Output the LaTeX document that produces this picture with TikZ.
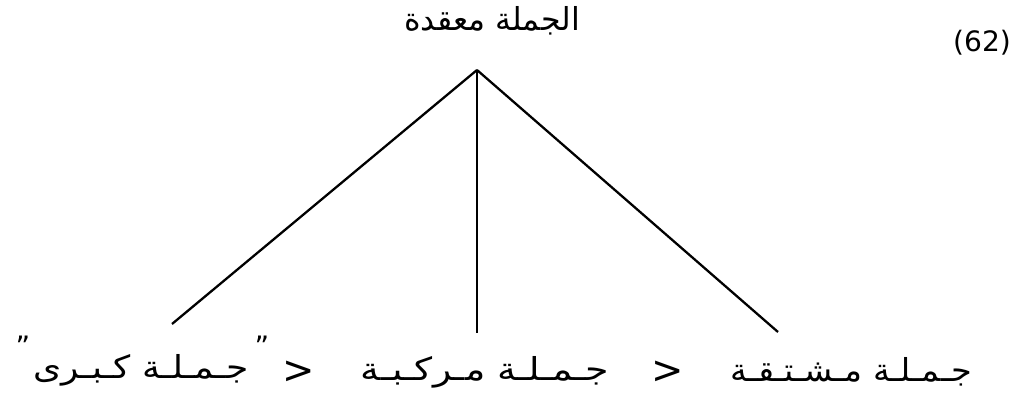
\documentclass[tikz,border=0pt]{standalone}
\usepackage{fontspec}
\setmainfont{DejaVu Sans}
\newfontfamily\arabicfont[Script=Arabic]{DejaVu Sans}
\TeXXeTstate=1
\begin{document}
\begin{tikzpicture}[x=0.02cm, y=-0.02cm,
    phrase/.style={font=\arabicfont\fontsize{18}{21}\selectfont, inner sep=0pt},
    latin/.style={font=\fontsize{16}{19}\selectfont, inner sep=0pt},
    branch/.style={line width=1.3pt, black}
]
    \useasboundingbox (0,0) rectangle (1024,399);

    % --- Head of the tree ---
    \node[phrase] (root) at (492, 21) {\beginR الجملة معقدة\endR};
    \node[latin]  (num)  at (982, 43) {(62)};
    \coordinate (apex) at (477, 70);

    % --- Leaves (right to left) ---
    \node[phrase, xscale=1.06] (derived)  at (851, 372) {\beginR جـمـلـة مـشـتـقـة\endR};
    \node[latin, font=\fontsize{22}{24}\selectfont] (gtA) at (668, 372) {>};
    \node[phrase, xscale=1.2]  (compound) at (485, 372) {\beginR جـمـلـة مـركـبـة\endR};
    \node[latin, font=\fontsize{22}{24}\selectfont] (gtB) at (299, 372) {>};
    \node[phrase, xscale=1.14] (major)    at (141, 370) {\beginR جـمـلـة كـبـرى\endR};
    \node[latin] (qL) at (23, 346) {"};
    \node[latin] (qR) at (262, 346) {"};

    % --- Branch ends ---
    \coordinate (endL) at (172, 324);
    \coordinate (endM) at (477, 333);
    \coordinate (endR) at (778, 332);

    \draw[branch] (apex) -- (endL);
    \draw[branch] (apex) -- (endM);
    \draw[branch] (apex) -- (endR);

\end{tikzpicture}
\end{document}
